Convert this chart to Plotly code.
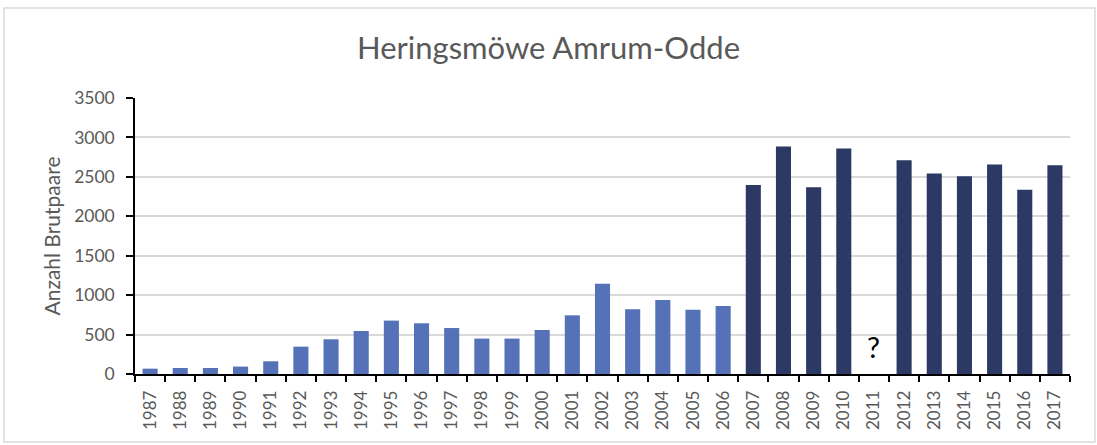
import plotly.graph_objects as go

# data
years = [str(y) for y in range(1987, 2018)]
brutpaare = [68, 76, 76, 94, 161, 347, 440, 545, 677, 643, 583, 449, 449, 558, 744, 1146,
             822, 937, 815, 861, 2397, 2885, 2368, 2859, None, 2712, 2541, 2508, 2656, 2337, 2648]
missing_year = "2011"

light_blue = "#5571b7"
navy = "#2b3964"
grey_txt = "#595959"
colors = [light_blue if int(y) < 2007 else navy for y in years]

fig = go.Figure()
fig.add_trace(go.Bar(x=years, y=brutpaare, marker=dict(color=colors, line=dict(width=0)),
                     showlegend=False))

# the "?" for the year without a count (category index, a "2011" string reads as a position)
fig.add_annotation(x=years.index(missing_year), y=355, text="?", showarrow=False,
                   font=dict(size=29, color="black", family="Lato"))

# light frame round the whole chart (plot area is 135..1070 x 98..374 px)
W, H = 935, 276
def px_x(v): return (v - 135) / W
def px_y(v): return (374 - v) / H
fig.add_shape(type="rect", xref="paper", yref="paper",
              x0=px_x(4), x1=px_x(1095), y0=px_y(442), y1=px_y(8),
              line=dict(color="#d9d9d9", width=1.5), layer="below")

fig.update_layout(
    width=1097, height=445,
    margin=dict(l=135, r=27, t=98, b=71),
    paper_bgcolor="white", plot_bgcolor="white",
    font=dict(family="Lato", color=grey_txt),
    bargap=0.5,
    title=dict(text="Heringsmöwe Amrum-Odde", x=0.5, xanchor="center",
               y=1 - 48 / 445, yanchor="middle",
               font=dict(size=31, color=grey_txt, family="Lato")),
)
fig.update_xaxes(type="category", showline=True, linecolor="black", linewidth=1.5,
                 ticks="outside", tickson="boundaries", ticklen=6, tickcolor="black",
                 tickwidth=1.5, tickangle=-90, tickfont=dict(size=17, color=grey_txt),
                 ticklabelstandoff=8, showgrid=False)
fig.update_yaxes(range=[0, 3500], dtick=500, showline=True, linecolor="black", linewidth=1.5,
                 ticks="outside", ticklen=7, tickcolor="black", tickwidth=1.5,
                 gridcolor="#d9d9d9", gridwidth=1.5, zeroline=False,
                 tickfont=dict(size=17.5, color=grey_txt), ticklabelstandoff=8,
                 title=dict(text="Anzahl Brutpaare", font=dict(size=21, color=grey_txt),
                            standoff=8))

# page has an 8px body margin by default, drop it so the chart sits at 0,0
fig.write_html("out.html", config={"displayModeBar": False},
               post_script="document.body.style.margin='0';")
